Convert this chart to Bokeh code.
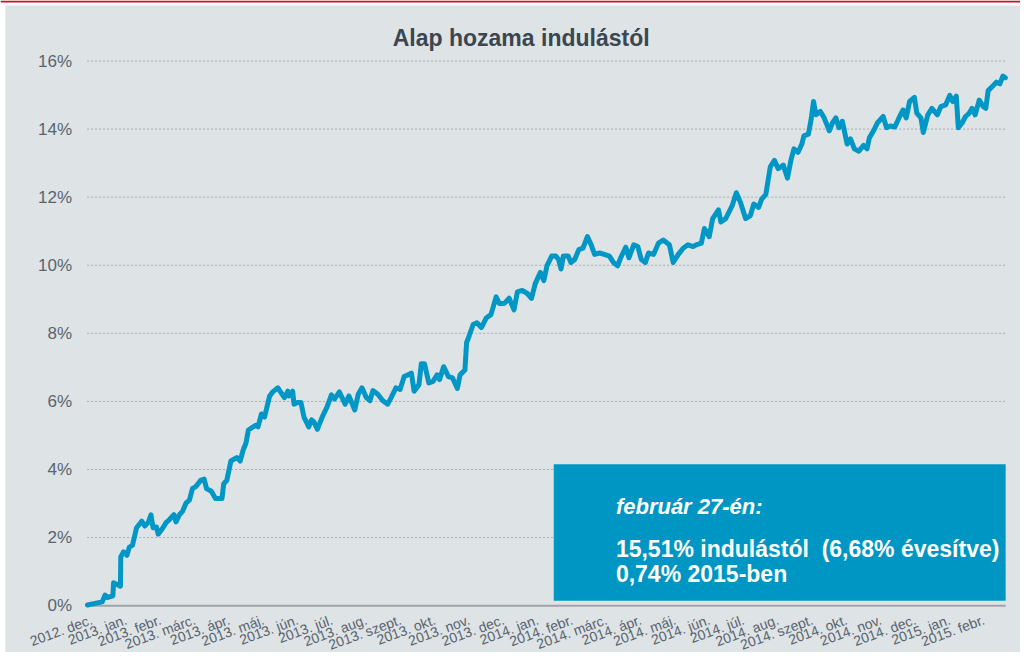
from bokeh.plotting import figure
from bokeh.models import Range1d, Label, BoxAnnotation, ColumnDataSource
from bokeh.core.properties import value
from bokeh.embed import file_html
from bokeh.resources import INLINE

# x = months since 2012-12-01, y = cumulative return since launch (%)
month_pos = [0.01, 0.44, 0.52, 0.58, 0.75, 0.77, 0.87, 0.97, 0.98, 1.06, 1.16, 1.23, 1.32, 1.44, 1.59,
             1.68, 1.78, 1.86, 1.92, 2.02, 2.07, 2.21, 2.30, 2.40, 2.53, 2.59, 2.69, 2.78, 2.88, 2.98,
             3.07, 3.16, 3.31, 3.41, 3.48, 3.62, 3.74, 3.93, 3.98, 4.07, 4.19, 4.36, 4.46, 4.55, 4.63,
             4.70, 4.84, 4.92, 4.98, 5.08, 5.17, 5.32, 5.41, 5.56, 5.65, 5.75, 5.85, 5.89, 5.99, 6.03,
             6.13, 6.23, 6.32, 6.46, 6.54, 6.61, 6.71, 6.85, 6.99, 7.12, 7.21, 7.35, 7.52, 7.63, 7.80,
             7.90, 8.01, 8.14, 8.24, 8.33, 8.47, 8.62, 8.76, 8.86, 9.00, 9.12, 9.24, 9.45, 9.53, 9.67,
             9.74, 9.83, 9.96, 10.08, 10.20, 10.27, 10.39, 10.53, 10.65, 10.79, 10.87, 11.01, 11.06,
             11.10, 11.25, 11.36, 11.49, 11.63, 11.77, 11.92, 12.01, 12.16, 12.30, 12.44, 12.54, 12.68,
             12.83, 12.95, 13.06, 13.21, 13.31, 13.40, 13.54, 13.66, 13.74, 13.81, 13.88, 14.02, 14.10,
             14.21, 14.33, 14.45, 14.58, 14.69, 14.79, 14.93, 15.07, 15.22, 15.34, 15.46, 15.55, 15.70,
             15.79, 15.93, 16.05, 16.15, 16.27, 16.36, 16.51, 16.65, 16.79, 16.97, 17.08, 17.23, 17.37,
             17.51, 17.66, 17.75, 17.90, 17.99, 18.13, 18.23, 18.40, 18.47, 18.61, 18.80, 18.92, 19.04,
             19.19, 19.33, 19.43, 19.57, 19.66, 19.78, 19.91, 20.03, 20.14, 20.29, 20.41, 20.51, 20.60,
             20.72, 20.83, 20.89, 21.02, 21.10, 21.17, 21.24, 21.37, 21.48, 21.63, 21.72, 21.82, 21.91,
             22.01, 22.15, 22.25, 22.36, 22.49, 22.63, 22.73, 22.80, 22.92, 23.03, 23.20, 23.30, 23.41,
             23.54, 23.68, 23.78, 23.87, 23.97, 24.11, 24.18, 24.30, 24.37, 24.50, 24.62, 24.78, 24.88,
             25.02, 25.14, 25.23, 25.33, 25.39, 25.50, 25.60, 25.71, 25.79, 25.88, 26.00, 26.12, 26.19,
             26.26, 26.41, 26.50, 26.60, 26.69, 26.76]
return_pct = [0.02, 0.11, 0.31, 0.24, 0.29, 0.67, 0.62, 0.57, 1.43, 1.58, 1.48, 1.72, 1.77, 2.29, 2.48,
              2.34, 2.44, 2.67, 2.29, 2.31, 2.10, 2.29, 2.44, 2.53, 2.67, 2.46, 2.67, 2.77, 3.01, 3.10,
              3.44, 3.49, 3.68, 3.72, 3.44, 3.36, 3.15, 3.15, 3.58, 3.68, 4.25, 4.35, 4.25, 4.58, 4.78,
              5.16, 5.25, 5.30, 5.25, 5.63, 5.54, 6.16, 6.28, 6.40, 6.26, 6.11, 6.30, 6.16, 6.30, 5.92,
              5.97, 5.97, 5.54, 5.25, 5.46, 5.40, 5.18, 5.54, 5.83, 6.19, 6.07, 6.28, 5.92, 6.16, 5.75,
              6.21, 6.40, 6.11, 6.02, 6.32, 6.21, 6.02, 5.92, 6.11, 6.40, 6.35, 6.73, 6.83, 6.30, 6.49,
              7.11, 7.11, 6.54, 6.59, 6.78, 6.64, 7.02, 6.73, 6.69, 6.38, 6.78, 6.92, 7.74,
              7.83, 8.26, 8.31, 8.17, 8.45, 8.55, 9.07, 8.88, 8.88, 9.03, 8.69, 9.22, 9.26,
              9.17, 9.03, 9.46, 9.79, 9.55, 9.98, 10.27, 10.27, 10.17, 9.89, 10.27, 10.27, 10.08,
              10.17, 10.46, 10.50, 10.84, 10.60, 10.32, 10.36, 10.32, 10.27, 10.08, 9.98, 10.22, 10.53,
              10.22, 10.60, 10.55, 10.17, 10.08, 10.36, 10.32, 10.65, 10.74, 10.60, 10.08, 10.32, 10.50,
              10.60, 10.55, 10.60, 10.65, 11.08, 10.84, 11.37, 11.63, 11.27, 11.37, 11.75, 12.13, 11.85,
              11.37, 11.46, 11.80, 11.70, 11.94, 12.08, 12.89, 13.08, 12.84, 12.94, 12.56, 13.08, 13.42,
              13.32, 13.56, 13.80, 13.85, 14.28, 14.81, 14.42, 14.52, 14.33, 13.95, 14.18, 14.33, 14.04,
              14.23, 13.56, 13.71, 13.42, 13.35, 13.52, 13.42, 13.75, 13.95, 14.18, 14.37, 14.04, 14.09,
              14.06, 14.37, 14.56, 14.33, 14.81, 14.93, 14.47, 14.33, 13.90, 14.42, 14.61, 14.42, 14.66,
              14.71, 14.99, 14.81, 14.97, 14.04, 14.18, 14.37, 14.47, 14.61, 14.42, 14.85, 14.66, 14.61,
              15.13, 15.28, 15.38, 15.33, 15.56, 15.51]

month_labels = ["2012. dec.", "2013. jan.", "2013. febr.", "2013. márc.", "2013. ápr.", "2013. máj.",
                "2013. jún.", "2013. júl.", "2013. aug.", "2013. szept.", "2013. okt.", "2013. nov.",
                "2013. dec.", "2014. jan.", "2014. febr.", "2014. márc.", "2014. ápr.", "2014. máj.",
                "2014. jún.", "2014. júl.", "2014. aug.", "2014. szept.", "2014. okt.", "2014. nov.",
                "2014. dec.", "2015. jan.", "2015. febr."]
y_ticks = [0, 2, 4, 6, 8, 10, 12, 14, 16]
y_tick_labels = ["0%", "2%", "4%", "6%", "8%", "10%", "12%", "14%", "16%"]

title_text = "Alap hozama indulástól"
box_lines = ["február 27-én:", "15,51% indulástól\u00a0 (6,68% évesítve)", "0,74% 2015-ben"]

BG = "#DEE3E6"
BLUE = "#0097C6"
FONT = "Liberation Sans"
TXT = "#59646E"

X_END = 26.77          # last plotted month (right end of the plot area)

# the frame covers the whole canvas; axes are drawn with glyphs so that the
# rotated month labels can hang below the zero line as in the original
p = figure(width=1020, height=652, output_backend="svg", toolbar_location=None,
           x_range=Range1d(-2.5251, 27.2023), y_range=Range1d(-1.3763, 17.7778),
           min_border=0)
p.background_fill_color = "white"
p.border_fill_color = "white"
p.outline_line_color = None
p.axis.visible = False
p.grid.visible = False

# page decoration: grey panel and the red rule on top
p.add_layout(BoxAnnotation(left=-2.3816, top=17.6344, fill_color=BG, fill_alpha=1,
                           line_color=None, level="underlay"))
p.add_layout(BoxAnnotation(bottom=17.7204, fill_color="#C8102E", fill_alpha=1,
                           line_color=None, level="underlay"))

# gridlines (2% .. 16%)
grid_src = ColumnDataSource(dict(y=y_ticks[1:], x0=[0] * 8, x1=[X_END] * 8))
p.segment(x0="x0", x1="x1", y0="y", y1="y", source=grid_src, line_color="#A8ACAF",
          line_dash="2 2", line_width=1)
# zero line
p.segment(x0=[0], x1=[X_END], y0=[0], y1=[0], line_color="#A0A4A7", line_width=2)

# y tick labels
ylab_src = ColumnDataSource(dict(x=[0] * len(y_ticks), y=y_ticks, t=y_tick_labels))
p.text(x="x", y="y", text="t", source=ylab_src, x_offset=-15, text_align="right",
       text_baseline="middle", text_font=value(FONT), text_font_size="17px", text_color=TXT)

# x tick labels (rotated)
xlab_src = ColumnDataSource(dict(x=list(range(len(month_labels))), y=[0] * len(month_labels),
                                 t=month_labels))
p.text(x="x", y="y", text="t", source=xlab_src, x_offset=2, y_offset=6, angle=0.35,
       text_align="right", text_baseline="top", text_font=value(FONT), text_font_size="14px",
       text_color=TXT)

# title
p.text(x=[12.65], y=[16.68], text=[title_text], text_align="center", text_baseline="alphabetic",
       text_font=value(FONT), text_font_size="23px", text_font_style="bold", text_color="#3B4650")

# the series
p.line(month_pos, return_pct, line_color=BLUE, line_width=5, line_join="round", line_cap="round")

# info box
p.add_layout(BoxAnnotation(left=13.60, right=X_END, top=4.155, bottom=0.143, fill_color="#0096C3",
                           fill_alpha=1, line_color=None))
p.add_layout(Label(x=15.41, y=2.92, text=box_lines[0], text_font=FONT, text_font_size="22px",
                   text_font_style="bold italic", text_color="white", text_baseline="alphabetic"))
p.add_layout(Label(x=15.41, y=1.66, text=box_lines[1], text_font=FONT, text_font_size="23px",
                   text_font_style="bold", text_color="white", text_baseline="alphabetic"))
p.add_layout(Label(x=15.41, y=0.917, text=box_lines[2], text_font=FONT, text_font_size="23px",
                   text_font_style="bold", text_color="white", text_baseline="alphabetic"))

open("out.html", "w").write(file_html(p, INLINE))
